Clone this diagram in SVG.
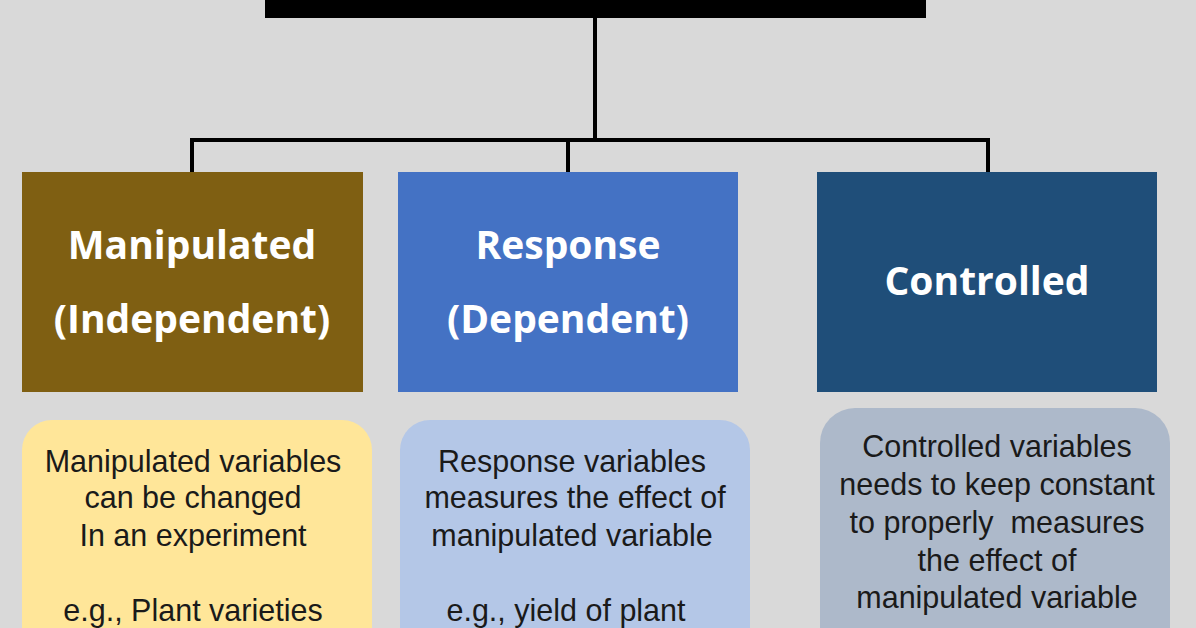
<svg xmlns="http://www.w3.org/2000/svg" width="1196" height="628" viewBox="0 0 1196 628">
<style>
.h{font-family:"Open Sans","Liberation Sans",sans-serif;font-weight:bold;font-size:39px;fill:#fff;text-anchor:middle}
.b{font-family:"Liberation Sans",Arial,sans-serif;font-size:30.5px;fill:#1a1a1a;text-anchor:middle}
.c{stroke:#000;stroke-width:4;fill:none}
</style>
<rect width="1196" height="628" fill="#d9d9d9"/>
<g id="title"><rect x="265" y="-10" width="661" height="28" fill="#000"/></g>
<g id="connectors">
<path class="c" d="M595 18V140M192 172V140H988V172M568 140V172"/>
</g>
<g id="manipulated"><rect x="22" y="172" width="341" height="220" fill="#7f5f12"/>
<text class="h" x="192" y="259">Manipulated</text><text class="h" x="192" y="333">(Independent)</text></g>
<g id="response"><rect x="398" y="172" width="340" height="220" fill="#4472c4"/>
<text class="h" x="568" y="259">Response</text><text class="h" x="568" y="333">(Dependent)</text></g>
<g id="controlled"><rect x="817" y="172" width="340" height="220" fill="#1f4e79"/>
<text class="h" x="987" y="295">Controlled</text></g>
<g id="desc-manipulated"><rect x="22" y="420" width="350" height="240" rx="30" fill="#ffe699"/>
<text class="b" x="193" y="472">Manipulated variables</text><text class="b" x="193" y="508">can be changed</text><text class="b" x="193" y="546">In an experiment</text><text class="b" x="193" y="621">e.g., Plant varieties</text></g>
<g id="desc-response"><rect x="400" y="420" width="350" height="240" rx="30" fill="#b4c7e7"/>
<text class="b" x="572" y="472">Response variables</text><text class="b" x="575" y="508">measures the effect of</text><text class="b" x="572" y="546">manipulated variable</text><text class="b" x="566" y="621">e.g., yield of plant</text></g>
<g id="desc-controlled"><rect x="820" y="408" width="350" height="260" rx="35" fill="#adb9ca"/>
<text class="b" x="997" y="457">Controlled variables</text><text class="b" x="997" y="495">needs to keep constant</text><text class="b" x="997" y="533" xml:space="preserve">to properly  measures</text><text class="b" x="997" y="571">the effect of</text><text class="b" x="997" y="608">manipulated variable</text></g>
</svg>
